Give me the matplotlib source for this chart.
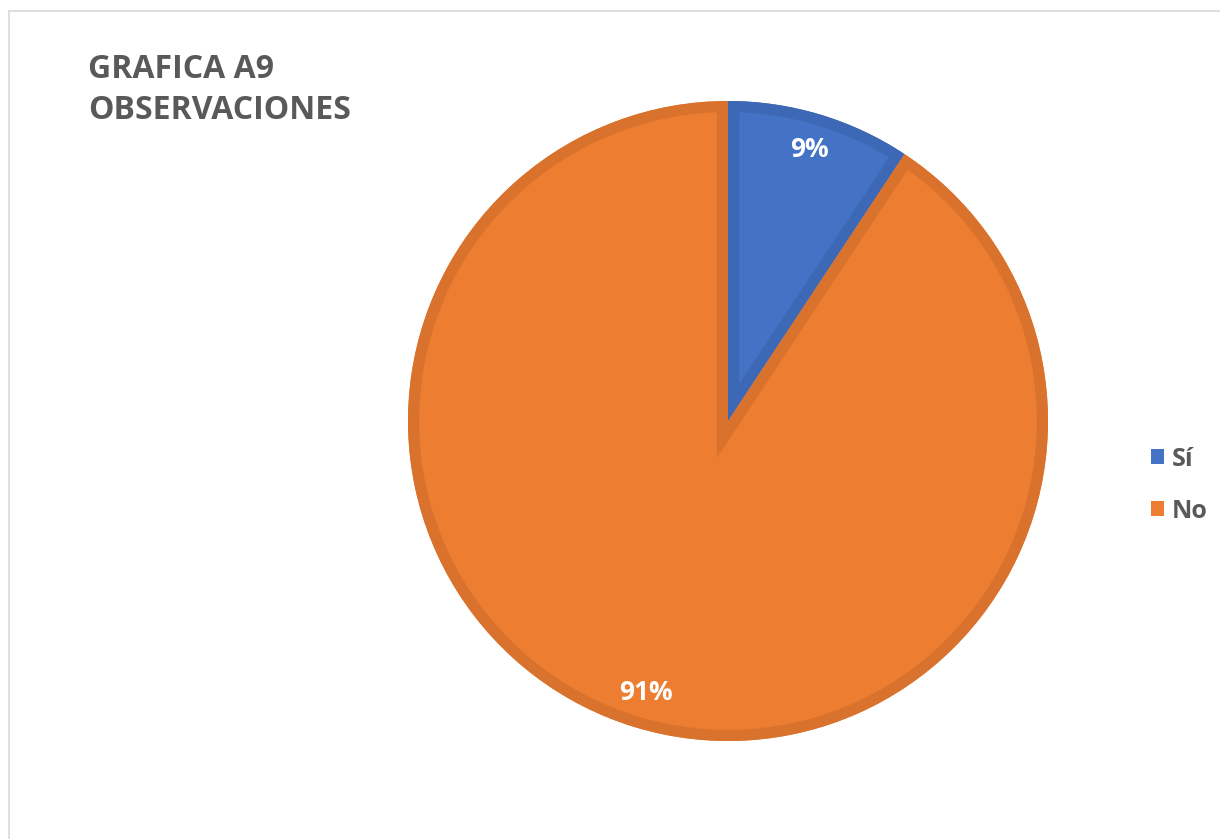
import matplotlib.pyplot as plt
from matplotlib.patches import Patch, Wedge
from matplotlib.lines import Line2D

labels = ["Sí", "No"]
values = [9.3, 90.7]
colors = ["#4472C4", "#ED7D31"]
band_colors = ["#3D68B5", "#D8722D"]
title_lines = ["GRAFICA A9", "OBSERVACIONES"]

plt.rcParams['font.family'] = ['Open Sans', 'DejaVu Sans']

W, H = 1220, 839
fig = plt.figure(figsize=(W / 100, H / 100), dpi=100)

# chart frame (only top and left edges show)
fig.add_artist(Line2D([8.5 / W, 1], [1 - 10.5 / H] * 2, color="#D9D9D9", lw=1.2))
fig.add_artist(Line2D([8.5 / W] * 2, [0, 1 - 10.5 / H], color="#D9D9D9", lw=1.2))

cx, cy, r = 728, 421, 320
ax = fig.add_axes([(cx - r) / W, (H - cy - r) / H, 2 * r / W, 2 * r / H])

wedges, texts, autotexts = ax.pie(values, colors=colors, startangle=90, counterclock=False,
                                  autopct='%.0f%%', pctdistance=0.885, radius=1,
                                  wedgeprops=dict(linewidth=0))
for w, bc in zip(wedges, band_colors):
    # darker band on the inside edge of each slice
    band = Wedge(w.center, w.r, w.theta1, w.theta2, facecolor="none", edgecolor=bc,
                 lw=16, joinstyle="miter", zorder=w.get_zorder() + 0.1)
    ax.add_patch(band)
    band.set_clip_path(w)
for t in autotexts:
    t.set_color("white")
    t.set_fontsize(19)
    t.set_fontweight("bold")
    t.set_zorder(5)
ax.set_xlim(-1, 1)
ax.set_ylim(-1, 1)
ax.set_aspect("equal")
ax.axis("off")

for i, line in enumerate(title_lines):
    fig.text(88 / W, 1 - (78 + 41 * i) / H, line, ha="left", va="baseline", fontsize=23,
             fontweight="bold", color="#595959")

handles = [Patch(facecolor=c, edgecolor="none") for c in colors]
leg = fig.legend(handles, labels, loc="center left", bbox_to_anchor=(1138 / W, 1 - 485 / H),
                 frameon=False, fontsize=18, handlelength=0.55, handleheight=0.55,
                 handletextpad=0.3, labelspacing=1.08, borderpad=0)
for t in leg.get_texts():
    t.set_color("#595959")
    t.set_fontweight("bold")

fig.savefig("out.png", dpi=100)
